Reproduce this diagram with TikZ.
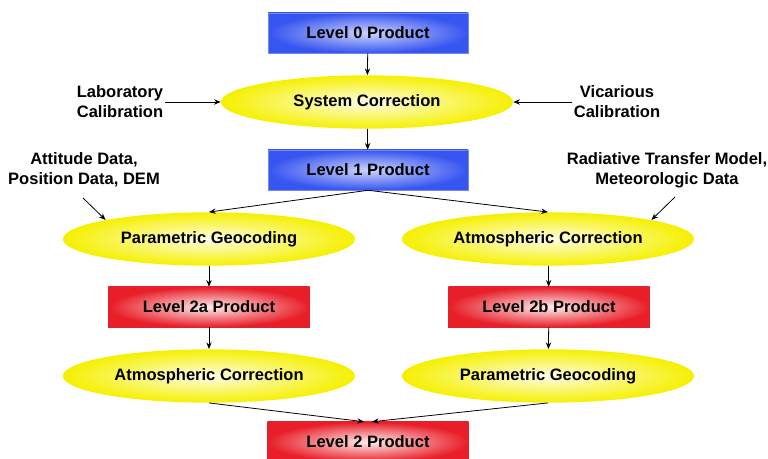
\documentclass[tikz,border=0pt]{standalone}
\usepackage{fontspec}
\setmainfont{Liberation Sans}
\usetikzlibrary{shapes.geometric,arrows.meta}
\definecolor{boxblue}{RGB}{55,85,240}
\definecolor{boxred}{RGB}{232,30,40}
\definecolor{procyellow}{RGB}{245,240,0}
\tikzset{every node/.style={font=\fontsize{12.4}{15}\selectfont\bfseries},
    level0/.style={rectangle,draw=boxblue!70,minimum width=150pt,minimum height=30pt,
        inner color=boxblue!25,outer color=boxblue},
    level2/.style={rectangle,draw=boxred,minimum width=151pt,minimum height=30pt,
        inner color=boxred!8,outer color=boxred},
    proc/.style={ellipse,minimum width=219pt,minimum height=40pt,
        inner color=procyellow!10,outer color=procyellow},
    source/.style={align=center,inner sep=1pt},
    flow/.style={-{Stealth[length=5pt,width=4pt]},line width=0.6pt}}
\begin{document}
\begin{tikzpicture}[x=0.75pt,y=-0.75pt]
\useasboundingbox (0,0) rectangle (768,459);
% main chain
\node[level0] (l0) at (368,33) {Level 0 Product};
\node[proc] (sys) at (367,102) {System Correction};
\node[level0] (l1) at (368,170) {Level 1 Product};
% left branch
\node[proc] (geo1) at (209,239) {Parametric Geocoding};
\node[level2] (l2a) at (209,307) {Level 2a Product};
\node[proc] (atm1) at (209,376) {Atmospheric Correction};
% right branch
\node[proc] (atm2) at (548,239) {Atmospheric Correction};
\node[level2] (l2b) at (549,307) {Level 2b Product};
\node[proc] (geo2) at (548,376) {Parametric Geocoding};
\node[level2] (l2) at (368,442) {Level 2 Product};
% inputs
\node[source] (lab) at (120,102) {Laboratory\\Calibration};
\node[source] (vic) at (617,102) {Vicarious\\Calibration};
\node[source] (att) at (84,170) {Attitude Data,\\Position Data, DEM};
\node[source] (rad) at (667,170) {Radiative Transfer Model,\\Meteorologic Data};
\coordinate (atttip) at (83,198);
\coordinate (radtip) at (675,197);

\draw[flow] (l0) -- (sys);
\draw[flow] (lab.east) -- (sys.west);
\draw[flow] (vic.west) -- (sys.east);
\draw[flow] (sys) -- (l1);
\draw[flow] (l1.south) -- (geo1.north);
\draw[flow] (l1.south) -- (atm2.north);
\draw[flow] (atttip) -- (geo1.north west);
\draw[flow] (radtip) -- (atm2.north east);
\draw[flow] (geo1) -- (l2a);
\draw[flow] (l2a) -- (atm1);
\draw[flow] (atm2) -- (l2b);
\draw[flow] (l2b) -- (geo2);
\draw[flow] (atm1.south) -- ([xshift=-3]l2.north);
\draw[flow] (geo2.south) -- ([xshift=3]l2.north);
\end{tikzpicture}
\end{document}
